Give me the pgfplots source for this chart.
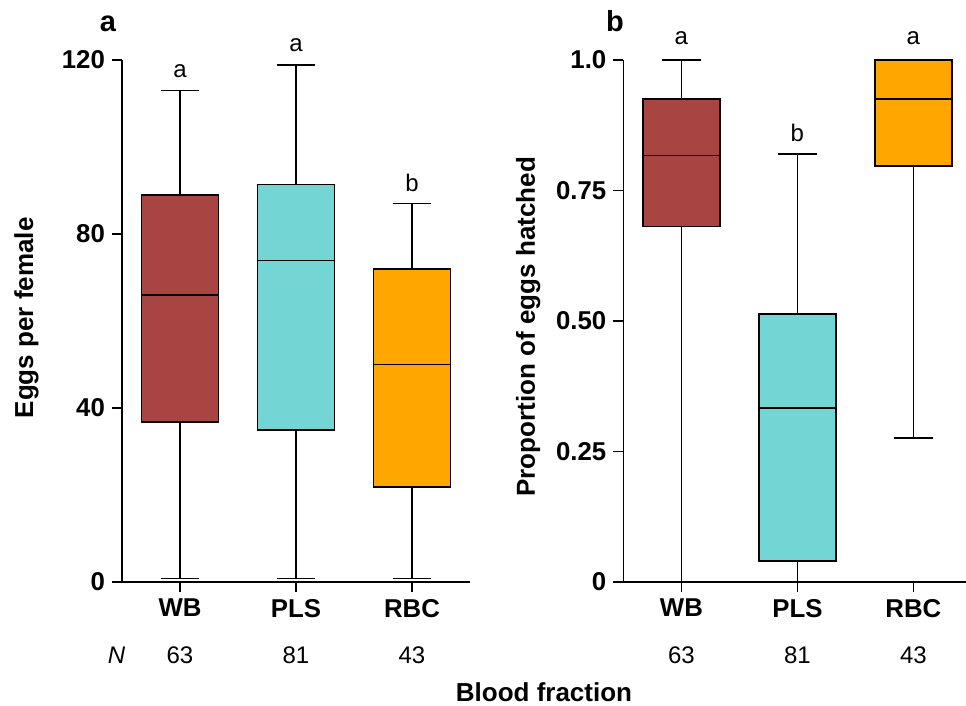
\documentclass[border=0pt]{standalone}
\usepackage{fontspec}
\setmainfont{Liberation Sans}
\setsansfont{Liberation Sans}
\usepackage{pgfplots}
\pgfplotsset{compat=1.18}
\usepgfplotslibrary{statistics}
\definecolor{wbc}{RGB}{168,68,66}
\definecolor{plsc}{RGB}{116,213,213}
\definecolor{rbcc}{RGB}{255,166,0}
\pgfplotsset{
  panel/.style={
    scale only axis, height=261pt,
    axis lines=left, axis line style={-, line width=0.9pt, black},
    xmin=0.5, xtick={1,2,3}, xticklabels={WB,PLS,RBC},
    tick align=outside, major tick length=5pt,
    tick style={line width=0.9pt, black},
    ticklabel style={font=\fontsize{12.9}{14}\selectfont\bfseries},
    /pgf/number format/assume math mode=true,
    label style={font=\fontsize{13}{15}\selectfont\bfseries},
    clip=false,
    boxplot/draw direction=y,
    boxplot/box extend=0.664,
    boxplot/whisker extend=0.336,
    boxplot/every box/.style={line width=0.9pt},
    boxplot/every median/.style={line width=0.9pt},
    boxplot/every whisker/.style={line width=0.9pt},
  },
  bx/.style={solid, draw=black, line width=0.9pt, fill=#1, mark=none},
}
\newcommand{\sig}{\fontsize{12}{14}\selectfont}
\begin{document}
\begin{tikzpicture}
\useasboundingbox (0,0) rectangle (483pt,353pt);
% panel a
\begin{axis}[panel, at={(61pt,62pt)}, anchor=south west,
  width=174pt, xmax=3.5,
  ymin=0, ymax=120, ytick={0,40,80,120},
  ylabel={Eggs per female},
  ylabel style={at={(axis description cs:-0.2557,0.506)}, anchor=base}]
\addplot[bx=wbc, boxplot prepared={lower whisker=0.8, lower quartile=36.8, median=65.9, upper quartile=88.9, upper whisker=113, draw position=1}] coordinates {};
\addplot[bx=plsc, boxplot prepared={lower whisker=0.8, lower quartile=34.9, median=73.9, upper quartile=91.4, upper whisker=118.9, draw position=2}] coordinates {};
\addplot[bx=rbcc, boxplot prepared={lower whisker=0.8, lower quartile=21.8, median=50, upper quartile=72, upper whisker=87, draw position=3}] coordinates {};
\node[anchor=base, yshift=6.5pt, font=\sig] at (axis cs:1,113) {a};
\node[anchor=base, yshift=6.5pt, font=\sig] at (axis cs:2,118.9) {a};
\node[anchor=base, yshift=6pt, font=\sig] at (axis cs:3,87) {b};
\node[anchor=base, yshift=-40.65pt, font=\sig] at (axis cs:1,0) {63};
\node[anchor=base, yshift=-40.65pt, font=\sig] at (axis cs:2,0) {81};
\node[anchor=base, yshift=-40.65pt, font=\sig] at (axis cs:3,0) {43};
\end{axis}
% panel b
\begin{axis}[panel, at={(311.7pt,62pt)}, anchor=south west,
  width=171.1pt, xmax=3.45,
  ymin=0, ymax=1, ytick={0,0.25,0.5,0.75,1},
  yticklabels={0,0.25,0.50,0.75,1.0},
  ylabel={Proportion of eggs hatched},
  ylabel style={at={(axis description cs:-0.2586,0.489)}, anchor=base}]
\addplot[bx=wbc, boxplot prepared={lower whisker=0, lower quartile=0.681, median=0.817, upper quartile=0.926, upper whisker=1.0, draw position=1}] coordinates {};
\addplot[bx=plsc, boxplot prepared={lower whisker=0, lower quartile=0.04, median=0.333, upper quartile=0.513, upper whisker=0.82, draw position=2}] coordinates {};
\addplot[bx=rbcc, boxplot prepared={lower whisker=0.276, lower quartile=0.797, median=0.926, upper quartile=1.0, upper whisker=1.0, draw position=3}] coordinates {};
\node[anchor=base, yshift=7.8pt, font=\sig] at (axis cs:1,1.0) {a};
\node[anchor=base, yshift=6.2pt, font=\sig] at (axis cs:2,0.82) {b};
\node[anchor=base, yshift=7.8pt, font=\sig] at (axis cs:3,1.0) {a};
\node[anchor=base, yshift=-40.65pt, font=\sig] at (axis cs:1,0) {63};
\node[anchor=base, yshift=-40.65pt, font=\sig] at (axis cs:2,0) {81};
\node[anchor=base, yshift=-40.65pt, font=\sig] at (axis cs:3,0) {43};
\end{axis}
\node[anchor=base, font=\fontsize{14.5}{16}\selectfont\bfseries] at (54pt,337.2pt) {a};
\node[anchor=base, font=\fontsize{14.5}{16}\selectfont\bfseries] at (307.5pt,337.2pt) {b};
\node[anchor=base, font=\sig\itshape] at (58.3pt,21.35pt) {N};
\node[anchor=base, font=\fontsize{13}{15}\selectfont\bfseries] at (272pt,2.15pt) {Blood fraction};
\end{tikzpicture}
\end{document}
